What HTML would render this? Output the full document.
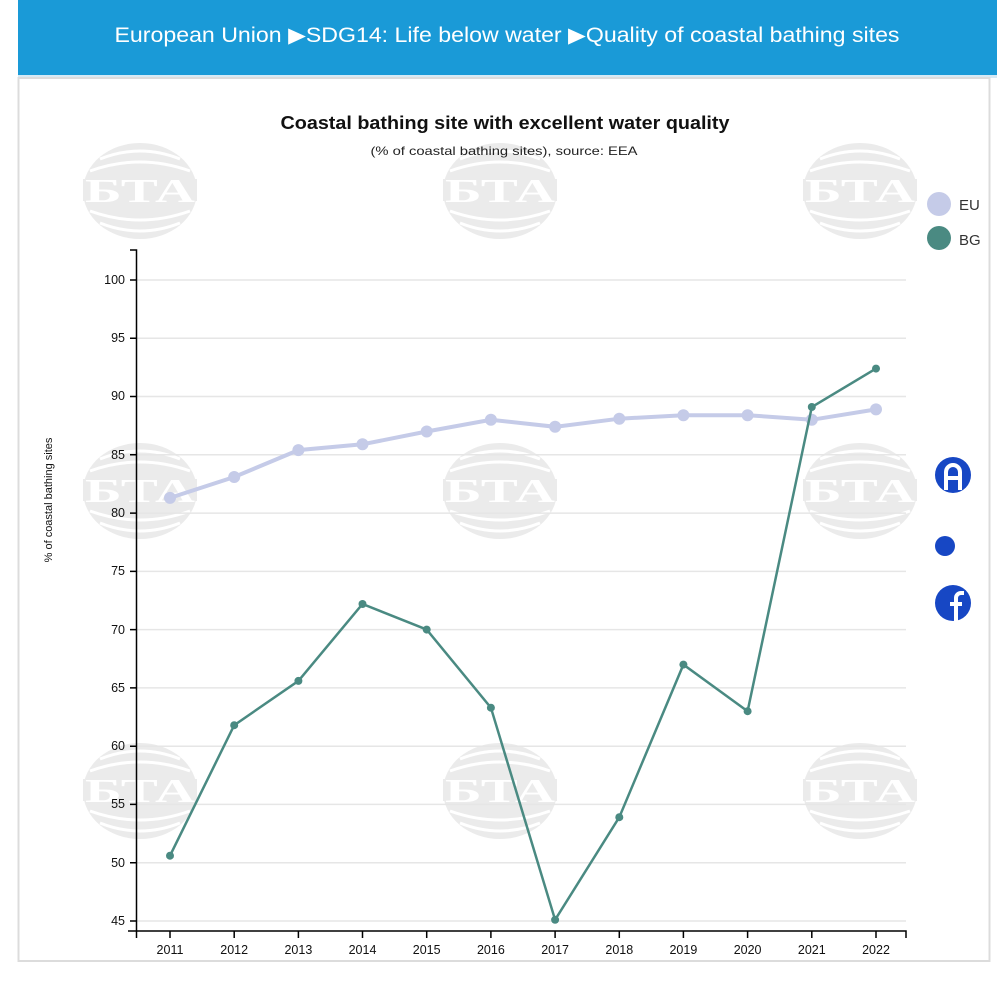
<!DOCTYPE html>
<html><head><meta charset="utf-8"><style>
body{margin:0;background:#fff;width:1000px;height:982px;overflow:hidden;font-family:"Liberation Sans",sans-serif}
</style></head><body>
<svg width="1000" height="982" xmlns="http://www.w3.org/2000/svg" font-family="Liberation Sans, sans-serif">
<rect x="18" y="0" width="979" height="75" fill="#1a9ad7"/>
<rect x="18" y="75" width="979" height="3" fill="#d6eaf5"/>
<text x="507" y="42" text-anchor="middle" font-size="21" textLength="785" lengthAdjust="spacingAndGlyphs" fill="#fff">European Union ▶SDG14: Life below water ▶Quality of coastal bathing sites</text>
<rect x="18.5" y="78" width="971" height="883" fill="none" stroke="#dcdcdc" stroke-width="2"/>
<defs><g id="logo">
<ellipse cx="0" cy="0" rx="57" ry="48" fill="#ebebeb"/>
<path d="M-40,-32 Q0,-48 40,-32 M-50,-20 Q0,-38 50,-20 M-40,32 Q0,48 40,32 M-50,20 Q0,38 50,20" stroke="#fff" stroke-width="3" fill="none"/>
<rect x="-57" y="-12" width="114" height="22" fill="#ebebeb"/>
<text x="0" y="11" text-anchor="middle" font-family="Liberation Serif, serif" font-weight="bold" font-size="34" textLength="110" lengthAdjust="spacingAndGlyphs" fill="#fff">БТА</text>
</g></defs>
<use href="#logo" x="140" y="191"/><use href="#logo" x="500" y="191"/><use href="#logo" x="860" y="191"/>
<use href="#logo" x="140" y="491"/><use href="#logo" x="500" y="491"/><use href="#logo" x="860" y="491"/>
<use href="#logo" x="140" y="791"/><use href="#logo" x="500" y="791"/><use href="#logo" x="860" y="791"/>
<text x="505" y="129" text-anchor="middle" font-size="18" font-weight="bold" textLength="449" lengthAdjust="spacingAndGlyphs" fill="#111">Coastal bathing site with excellent water quality</text>
<text x="504" y="155" text-anchor="middle" font-size="12" textLength="267" lengthAdjust="spacingAndGlyphs" fill="#222">(% of coastal bathing sites), source: EEA</text>
<circle cx="939" cy="204" r="12" fill="#c5cbe8"/><text x="959" y="210" font-size="15" fill="#333">EU</text>
<circle cx="939" cy="238" r="12" fill="#4a8a82"/><text x="959" y="245" font-size="15" fill="#333">BG</text>
<g stroke="#e6e6e6" stroke-width="1.5">
<line x1="137" x2="906" y1="280" y2="280"/><line x1="137" x2="906" y1="338.3" y2="338.3"/><line x1="137" x2="906" y1="396.5" y2="396.5"/><line x1="137" x2="906" y1="454.8" y2="454.8"/><line x1="137" x2="906" y1="513.1" y2="513.1"/><line x1="137" x2="906" y1="571.4" y2="571.4"/><line x1="137" x2="906" y1="629.6" y2="629.6"/><line x1="137" x2="906" y1="687.9" y2="687.9"/><line x1="137" x2="906" y1="746.2" y2="746.2"/><line x1="137" x2="906" y1="804.4" y2="804.4"/><line x1="137" x2="906" y1="862.7" y2="862.7"/><line x1="137" x2="906" y1="921" y2="921"/>
</g>
<g stroke="#000" stroke-width="1.5" fill="none">
<path d="M130,250H136.5V931"/><path d="M128,931H906V938"/><line x1="136.5" y1="931" x2="136.5" y2="938"/>
<path d="M130,280H136M130,338.3H136M130,396.5H136M130,454.8H136M130,513.1H136M130,571.4H136M130,629.6H136M130,687.9H136M130,746.2H136M130,804.4H136M130,862.7H136M130,921H136"/>
<path d="M170,931v7M234.2,931v7M298.4,931v7M362.5,931v7M426.7,931v7M490.9,931v7M555.1,931v7M619.3,931v7M683.4,931v7M747.6,931v7M811.8,931v7M876,931v7"/>
</g>
<g font-size="12.5" fill="#111" text-anchor="end">
<text x="125" y="284">100</text><text x="125" y="342">95</text><text x="125" y="400">90</text><text x="125" y="459">85</text><text x="125" y="517">80</text><text x="125" y="575">75</text><text x="125" y="634">70</text><text x="125" y="692">65</text><text x="125" y="750">60</text><text x="125" y="808">55</text><text x="125" y="867">50</text><text x="125" y="925">45</text>
</g>
<g font-size="12.5" fill="#111" text-anchor="middle">
<text x="170" y="954">2011</text><text x="234.2" y="954">2012</text><text x="298.4" y="954">2013</text><text x="362.5" y="954">2014</text><text x="426.7" y="954">2015</text><text x="490.9" y="954">2016</text><text x="555.1" y="954">2017</text><text x="619.3" y="954">2018</text><text x="683.4" y="954">2019</text><text x="747.6" y="954">2020</text><text x="811.8" y="954">2021</text><text x="876" y="954">2022</text>
</g>
<text transform="translate(52,500) rotate(-90)" text-anchor="middle" font-size="11" fill="#111">% of coastal bathing sites</text>
<polyline fill="none" stroke="#c5cbe8" stroke-width="4" points="170,497.9 234.2,477 298.4,450.1 362.5,444.3 426.7,431.5 490.9,419.8 555.1,426.8 619.3,418.7 683.4,415.2 747.6,415.2 811.8,419.8 876,409.4"/>
<g fill="#c5cbe8"><circle cx="170" cy="497.9" r="6"/><circle cx="234.2" cy="477" r="6"/><circle cx="298.4" cy="450.1" r="6"/><circle cx="362.5" cy="444.3" r="6"/><circle cx="426.7" cy="431.5" r="6"/><circle cx="490.9" cy="419.8" r="6"/><circle cx="555.1" cy="426.8" r="6"/><circle cx="619.3" cy="418.7" r="6"/><circle cx="683.4" cy="415.2" r="6"/><circle cx="747.6" cy="415.2" r="6"/><circle cx="811.8" cy="419.8" r="6"/><circle cx="876" cy="409.4" r="6"/></g>
<polyline fill="none" stroke="#4a8a82" stroke-width="2.5" points="170,855.7 234.2,725.2 298.4,680.9 362.5,604 426.7,629.6 490.9,707.7 555.1,919.8 619.3,817.2 683.4,664.6 747.6,711.2 811.8,407 876,368.6"/>
<g fill="#4a8a82"><circle cx="170" cy="855.7" r="4"/><circle cx="234.2" cy="725.2" r="4"/><circle cx="298.4" cy="680.9" r="4"/><circle cx="362.5" cy="604" r="4"/><circle cx="426.7" cy="629.6" r="4"/><circle cx="490.9" cy="707.7" r="4"/><circle cx="555.1" cy="919.8" r="4"/><circle cx="619.3" cy="817.2" r="4"/><circle cx="683.4" cy="664.6" r="4"/><circle cx="747.6" cy="711.2" r="4"/><circle cx="811.8" cy="407" r="4"/><circle cx="876" cy="368.6" r="4"/></g>
<circle cx="953" cy="475" r="18" fill="#1747c4"/>
<path d="M946,490V472a7,7 0 0 1 14,0V490M946,478H960" stroke="#fff" stroke-width="4" fill="none"/>
<circle cx="945" cy="546" r="10" fill="#1747c4"/>
<circle cx="953" cy="603" r="18" fill="#1747c4"/>
<path d="M956,621V598a5,5 0 0 1 5,-5h3M950,604h12" stroke="#fff" stroke-width="4" fill="none"/>
</svg>
</body></html>
